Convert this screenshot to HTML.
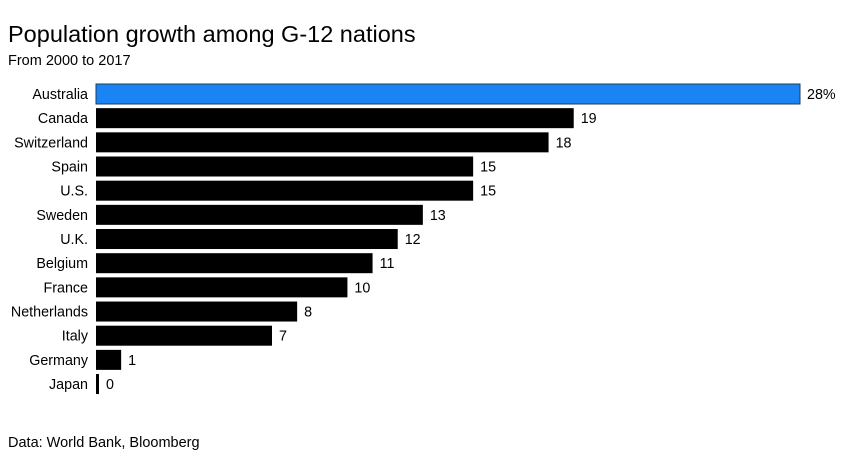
<!DOCTYPE html>
<html><head><meta charset="utf-8"><style>
body{margin:0;background:#fff;font-family:"Liberation Sans",sans-serif;}
#wrap{position:relative;width:844px;height:470px;overflow:hidden;}
</style></head><body>
<div id="wrap">
<svg id="chart" width="844" height="470">
<text x="8" y="42" font-size="23.5" fill="#000">Population growth among G-12 nations</text>
<text x="8" y="65" font-size="14.5" fill="#000">From 2000 to 2017</text>
<text x="8" y="447" font-size="14.5" fill="#000">Data: World Bank, Bloomberg</text>
<g id="bars"></g>
</svg>
</div>
<script>
const categories=["Australia","Canada","Switzerland","Spain","U.S.","Sweden","U.K.","Belgium","France","Netherlands","Italy","Germany","Japan"];
const values=[28,19,18,15,15,13,12,11,10,8,7,1,0];
const valueLabels=["28%","19","18","15","15","13","12","11","10","8","7","1","0"];
const x0=96,scale=(800-96)/28,top0=84,step=24.17,bh=20;
const xs=v=>x0+v*scale;
const ys=i=>top0+i*step;
const g=document.getElementById('bars');
const NS='http://www.w3.org/2000/svg';
categories.forEach((c,i)=>{
  const y=ys(i);
  const t=document.createElementNS(NS,'text');
  t.setAttribute('x',88);t.setAttribute('y',y+bh/2+5);t.setAttribute('text-anchor','end');t.setAttribute('font-size','14.3');
  t.textContent=c;
  
  
  g.appendChild(t);
  const r=document.createElementNS(NS,'rect');
  const w=Math.max(xs(values[i])-x0,3);
  r.setAttribute('x',x0);r.setAttribute('y',y);r.setAttribute('width',w);r.setAttribute('height',bh);
  if(i===0){r.setAttribute('fill','#1a84f5');r.setAttribute('stroke','#1d3d5e');r.setAttribute('stroke-width','1');}
  else r.setAttribute('fill','#000');
  
  
  g.appendChild(r);
  const v=document.createElementNS(NS,'text');
  v.setAttribute('x',x0+w+7);v.setAttribute('y',y+bh/2+5);v.setAttribute('font-size','14.3');
  v.textContent=valueLabels[i];
  
  
  g.appendChild(v);
});
</script>
</body></html>
